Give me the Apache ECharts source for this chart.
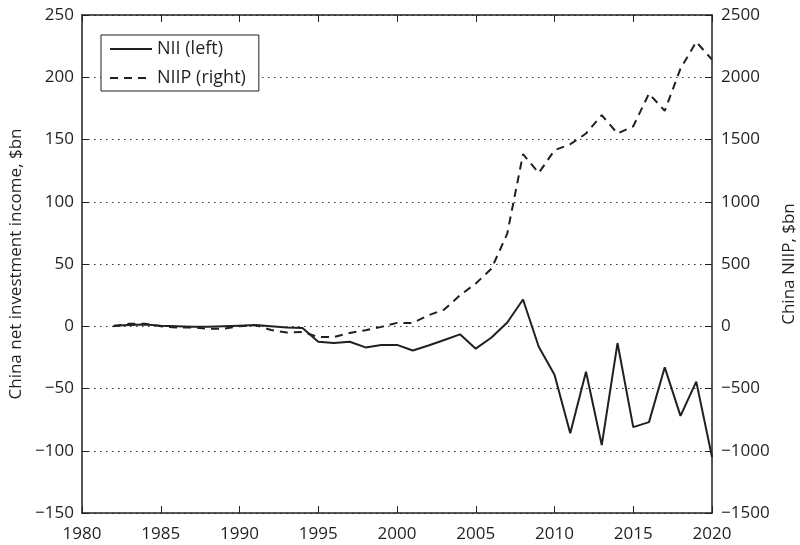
<!DOCTYPE html>
<html>
<head>
<meta charset="utf-8">
<script src="https://cdn.jsdelivr.net/npm/echarts@6/dist/echarts.min.js"></script>
<style>
  html, body { margin: 0; padding: 0; background: #fff; }
  #chart { width: 800px; height: 545px; }
</style>
</head>
<body>
<div id="chart"></div>
<script>
// years 1982..2020
var years = [1982, 1983, 1984, 1985, 1986, 1987, 1988, 1989, 1990, 1991,
             1992, 1993, 1994, 1995, 1996, 1997, 1998, 1999, 2000, 2001,
             2002, 2003, 2004, 2005, 2006, 2007, 2008, 2009, 2010, 2011,
             2012, 2013, 2014, 2015, 2016, 2017, 2018, 2019, 2020];
// net investment income, $bn (left)
var nii = [0.5, 1, 1.5, 0.5, 0, -0.5, -0.5, 0, 0.5, 1,
           0, -1, -1.5, -12.5, -13.5, -12.5, -17, -15, -15, -19.5,
           -15.5, -11, -6.5, -18, -9, 3, 21.5, -16.5, -39, -86,
           -36.5, -95.5, -13.5, -81, -77, -33, -72, -44.5, -105];
// net international investment position, $bn (right)
var niip = [0, 20, 20, 0, -10, -10, -20, -20, 0, 10,
            -30, -50, -45, -86, -86, -54, -32, -5, 27, 27,
            88, 134, 249, 343, 463, 744, 1382, 1231, 1414, 1462,
            1548, 1695, 1548, 1606, 1869, 1730, 2069, 2284, 2142];

var font = 'Open Sans';
var ink = '#231f20';

function pairs(vals) {
    return years.map(function (y, i) { return [y, vals[i]]; });
}
function minus(v) { return String(v).replace('-', '\u2212'); }

var chart = echarts.init(document.getElementById('chart'));
var option = {
    animation: false,
    backgroundColor: '#fff',
    textStyle: { fontFamily: font },
    grid: { left: 82, right: 88, top: 15, bottom: 32, outerBoundsMode: 'none' },
    legend: {
        left: 101, top: 35,
        orient: 'vertical',
        backgroundColor: '#fff',
        borderColor: ink, borderWidth: 1,
        padding: [5, 13, 4, 8],
        itemWidth: 42, itemHeight: 14, itemGap: 11,
        itemStyle: { opacity: 0 },
        textStyle: { fontFamily: font, fontSize: 18, color: ink },
        data: ['NII (left)', 'NIIP (right)']
    },
    xAxis: [{
        type: 'value', min: 1980, max: 2020, interval: 5,
        axisLine: { onZero: false, lineStyle: { color: ink, width: 1.5 } },
        axisTick: { inside: true, length: 7, lineStyle: { color: ink } },
        axisLabel: { color: ink, fontSize: 17, margin: 13, formatter: function (v) { return String(v); } },
        splitLine: { show: false }
    }, {
        type: 'value', min: 1980, max: 2020, interval: 5, position: 'top',
        axisLine: { onZero: false, lineStyle: { color: ink, width: 1.5 } },
        axisTick: { inside: true, length: 7, lineStyle: { color: ink } },
        axisLabel: { show: false },
        splitLine: { show: false }
    }],
    yAxis: [{
        type: 'value', min: -150, max: 250, interval: 50,
        name: 'China net investment income, $bn',
        nameLocation: 'middle', nameGap: 56,
        nameTextStyle: { color: ink, fontSize: 17, fontFamily: font },
        axisLine: { show: true, onZero: false, lineStyle: { color: ink, width: 1.5 } },
        axisTick: { show: true, inside: true, length: 7, lineStyle: { color: ink } },
        axisLabel: { color: ink, fontSize: 17, margin: 8, formatter: minus },
        splitLine: { show: true, lineStyle: { color: '#333', width: 1, type: [1.5, 4.5] } }
    }, {
        type: 'value', min: -1500, max: 2500, interval: 500, position: 'right',
        name: 'China NIIP, $bn',
        nameLocation: 'middle', nameGap: 63,
        nameRotate: 90,
        nameTextStyle: { color: ink, fontSize: 17, fontFamily: font },
        axisLine: { show: true, onZero: false, lineStyle: { color: ink, width: 1.5 } },
        axisTick: { show: true, inside: true, length: 7, lineStyle: { color: ink } },
        axisLabel: { color: ink, fontSize: 17, margin: 9, formatter: minus },
        splitLine: { show: false }
    }],
    series: [{
        name: 'NII (left)',
        type: 'line',
        yAxisIndex: 0,
        symbol: 'none',
        lineStyle: { color: ink, width: 2, type: 'solid' },
        itemStyle: { color: ink },
        data: pairs(nii)
    }, {
        name: 'NIIP (right)',
        type: 'line',
        yAxisIndex: 1,
        symbol: 'none',
        lineStyle: { color: ink, width: 2, type: [8, 6] },
        itemStyle: { color: ink },
        data: pairs(niip)
    }]
};
option && chart.setOption(option);
</script>
</body>
</html>
